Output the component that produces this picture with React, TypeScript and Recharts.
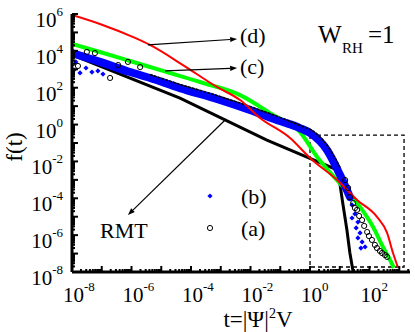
import React from 'react';
import { ComposedChart, Line, Scatter, XAxis, YAxis, ReferenceArea, ReferenceLine } from 'recharts';

const FONT = "'Liberation Serif', 'DejaVu Serif', serif";

// All values are log10(t), log10(f(t))
const RED_LT = [-8, -7.06, -5.88, -5.38, -4.27, -3.13, -2.35, -1.68, -0.67, 0.0, 0.91, 1.58, 2.25, 2.59, 2.79, 2.96];
const RED_LF = [5.95, 5.46, 4.70, 4.32, 3.23, 2.04, 1.33, 0.36, -0.73, -1.81, -3.01, -4.09, -5.01, -5.88, -6.97, -7.78];

const GREEN_LT = [-8, -7.06, -6.05, -4.94, -3.70, -2.35, -1.24, -0.34, 0.24, 1.11, 1.68, 2.12, 2.45, 2.69, 2.82];
const GREEN_LF = [4.37, 3.94, 3.45, 2.91, 2.31, 1.60, 0.52, -0.40, -1.76, -3.39, -4.47, -5.56, -6.64, -7.35, -7.78];

const RMT_LT = [-8, -4.37, -1.45, 0.91, 1.01, 1.11, 1.24, 1.34, 1.45];
const RMT_LF = [3.78, 1.44, -0.84, -2.46, -3.28, -4.36, -5.72, -6.97, -8.0];

// (b) dense band centre
const BLUE_BAND_LT = [-8, -7.06, -6.05, -5.38, -4.37, -3.13, -2.02, -1.01, -0.34, 0.0, 0.57, 1.01, 1.34];
const BLUE_BAND_LF = [3.88, 3.40, 2.85, 2.53, 1.98, 1.39, 0.79, 0.19, -0.19, -0.46, -1.38, -2.74, -3.93];
// (b) isolated points
const BLUE_PTS_LT = [-7.93, -7.73, -7.53, -7.33, -7.13, -7.87, -6.96, 1.41, 1.51, 1.41, 1.61, 1.55, 1.68, 1.61, 1.75, 1.85, 1.71];
const BLUE_PTS_LF = [2.96, 2.80, 3.07, 2.85, 2.91, 3.40, 2.74, -4.36, -4.85, -5.07, -5.29, -5.61, -5.88, -6.15, -6.37, -6.64, -6.70];

// (a) dense band (upper edge of the (b) band)
const CIRC_BAND_LT = [-5.38, -4.37, -3.13, -2.02, -1.01, -0.34, 0.17, 0.67, 1.01];
const CIRC_BAND_LF = [2.72, 2.18, 1.58, 0.98, 0.39, -0.05, -0.43, -1.35, -2.33];
// (a) isolated circles
const CIRC_PTS_LT = [-7.97, -7.80, -7.50, -7.23, -6.72, -6.45, -6.12, -5.71,
  1.18, 1.28, 1.34, 1.45, 1.51, 1.58, 1.65, 1.75, 1.82, 1.92, 1.98, 2.08, 2.18, 2.25, 2.35, 2.42, 2.52, 2.59];
const CIRC_PTS_LF = [3.34, 3.18, 3.94, 3.88, 2.53, 3.23, 3.40, 3.12,
  -3.01, -3.44, -3.93, -4.26, -4.53, -4.63, -4.96, -5.18, -5.50, -5.83, -6.05, -6.26, -6.53, -6.70, -6.86, -6.97, -7.08, -7.18];

const X_DOMAIN_LOG = [-8, 3.36];
const Y_DOMAIN_LOG = [-8, 6];
const X_DECADES = [-8, -7, -6, -5, -4, -3, -2, -1, 0, 1, 2, 3];
const X_LABELED = [-8, -6, -4, -2, 0, 2];
const Y_DECADES = [-8, -7, -6, -5, -4, -3, -2, -1, 0, 1, 2, 3, 4, 5, 6];
const Y_LABELED = [-8, -6, -4, -2, 0, 2, 4, 6];
const MINOR = [2, 3, 4, 5, 6, 7, 8, 9];

// dashed inset box (log10 units)
const BOX = { x1: 0, x2: 3.16, y1: -7.73, y2: -0.57 };
// annotation arrows [startT, startF, endT, endF] (log10 units)
const ARROW_D = [-5.45, 4.32, -2.45, 4.64];
const ARROW_C = [-4.87, 2.91, -2.45, 3.07];
const ARROW_RMT = [-2.82, 0.30, -6.12, -4.91];

const P = (v: number) => Math.pow(10, v);
const toPts = (lt: number[], lf: number[]) => lt.map((v, i) => ({ x: P(v), y: P(lf[i]) }));

const red = toPts(RED_LT, RED_LF);
const green = toPts(GREEN_LT, GREEN_LF);
const rmt = toPts(RMT_LT, RMT_LF);
const blueBand = toPts(BLUE_BAND_LT, BLUE_BAND_LF);
const bluePts = toPts(BLUE_PTS_LT, BLUE_PTS_LF);
const circBand = toPts(CIRC_BAND_LT, CIRC_BAND_LF);
const circPts = toPts(CIRC_PTS_LT, CIRC_PTS_LF);

const xDomain = [P(X_DOMAIN_LOG[0]), P(X_DOMAIN_LOG[1])];
const yDomain = [P(Y_DOMAIN_LOG[0]), P(Y_DOMAIN_LOG[1])];

const buildTicks = (decades: number[], lo: number, hi: number) =>
  decades
    .flatMap((d) => [P(d), ...MINOR.map((m) => m * P(d))])
    .filter((v) => v >= lo * 0.9999 && v <= hi * 1.0001);

const xTicks = buildTicks(X_DECADES, xDomain[0], xDomain[1]);
const yTicks = buildTicks(Y_DECADES, yDomain[0], yDomain[1]);

type Side = 'bottom' | 'top' | 'left' | 'right';

const textStyle = { fontFamily: FONT };

const makeTick = (side: Side, labeled: number[] | null) => (props: any) => {
  const { x, y, payload } = props;
  const lg = Math.log10(payload.value);
  const exp = Math.round(lg);
  const major = Math.abs(lg - exp) < 1e-6;
  const len = major ? 6 : 3;
  let x2 = x, y2 = y;
  if (side === 'bottom') y2 = y - len;
  if (side === 'top') y2 = y + len;
  if (side === 'left') x2 = x + len;
  if (side === 'right') x2 = x - len;
  const showLabel = major && labeled && labeled.includes(exp);
  return (
    <g>
      <line x1={x} y1={y} x2={x2} y2={y2} stroke="#000" strokeWidth={2} />
      {showLabel && side === 'bottom' && (
        <text x={x - 9} y={y + 30} fontSize={21} style={textStyle} fill="#000">
          10<tspan dy={-11} fontSize={13}>{exp}</tspan>
        </text>
      )}
      {showLabel && side === 'left' && (
        <text x={x - 9} y={y + 13} fontSize={21} style={textStyle} fill="#000" textAnchor="end">
          10<tspan dy={-11} fontSize={13}>{exp}</tspan>
        </text>
      )}
    </g>
  );
};

const Diamond = (props: any) => {
  const { cx, cy } = props;
  if (cx == null || cy == null) return <g />;
  const r = 2.6;
  return <polygon points={`${cx},${cy - r} ${cx + r},${cy} ${cx},${cy + r} ${cx - r},${cy}`} fill="#0000ff" />;
};

const Circle = (props: any) => {
  const { cx, cy } = props;
  if (cx == null || cy == null) return <g />;
  return <circle cx={cx} cy={cy} r={2.6} fill="none" stroke="#000" strokeWidth={1} />;
};

const ArrowShape = (props: any) => {
  const { x1, y1, x2, y2 } = props;
  if ([x1, y1, x2, y2].some((v) => v == null || Number.isNaN(v))) return <g />;
  const a = Math.atan2(y2 - y1, x2 - x1);
  const L = 7, W = 2.6;
  const bx = x2 - L * Math.cos(a), by = y2 - L * Math.sin(a);
  const px = -Math.sin(a) * W, py = Math.cos(a) * W;
  return (
    <g>
      <line x1={x1} y1={y1} x2={bx} y2={by} stroke="#000" strokeWidth={1.2} />
      <polygon points={`${x2},${y2} ${bx + px},${by + py} ${bx - px},${by - py}`} fill="#000" />
    </g>
  );
};

const seg = (a: number[]) => [
  { x: P(a[0]), y: P(a[1]) },
  { x: P(a[2]), y: P(a[3]) },
];

export default function App() {
  return (
    <div style={{ position: 'absolute', left: 0, top: 0, width: 415, height: 332, background: '#fff', fontFamily: FONT }}>
      <ComposedChart width={415} height={332} margin={{ top: 14, right: 5, bottom: 30, left: 22 }}>
        <XAxis
          xAxisId={0}
          dataKey="x"
          type="number"
          scale="log"
          domain={xDomain}
          allowDataOverflow
          ticks={xTicks}
          interval={0}
          tickSize={0}
          tickMargin={0}
          tickLine={false}
          axisLine={{ stroke: '#000', strokeWidth: 3 }}
          tick={makeTick('bottom', X_LABELED)}
          height={30}
        />
        <XAxis
          xAxisId="top"
          orientation="top"
          dataKey="x"
          type="number"
          scale="log"
          domain={xDomain}
          allowDataOverflow
          ticks={xTicks}
          interval={0}
          tickSize={0}
          tickMargin={0}
          tickLine={false}
          axisLine={{ stroke: '#000', strokeWidth: 3 }}
          tick={makeTick('top', null)}
          height={0}
        />
        <YAxis
          yAxisId={0}
          dataKey="y"
          type="number"
          scale="log"
          domain={yDomain}
          allowDataOverflow
          ticks={yTicks}
          interval={0}
          tickSize={0}
          tickMargin={0}
          tickLine={false}
          axisLine={{ stroke: '#000', strokeWidth: 3 }}
          tick={makeTick('left', Y_LABELED)}
          width={50}
        />
        <YAxis
          yAxisId="right"
          orientation="right"
          dataKey="y"
          type="number"
          scale="log"
          domain={yDomain}
          allowDataOverflow
          ticks={yTicks}
          interval={0}
          tickSize={0}
          tickMargin={0}
          tickLine={false}
          axisLine={{ stroke: '#000', strokeWidth: 3 }}
          tick={makeTick('right', null)}
          width={0}
        />
        <ReferenceArea
          x1={P(BOX.x1)}
          x2={P(BOX.x2)}
          y1={P(BOX.y1)}
          y2={P(BOX.y2)}
          fill="none"
          fillOpacity={0}
          stroke="#000"
          strokeWidth={1.3}
          strokeDasharray="4 3"
          ifOverflow="visible"
        />
        <Line data={rmt} dataKey="y" type="linear" stroke="#000" strokeWidth={3} dot={false} activeDot={false} isAnimationActive={false} />
        <Line data={green} dataKey="y" type="monotone" stroke="#00ff00" strokeWidth={4} dot={false} activeDot={false} isAnimationActive={false} />
        <Line data={blueBand} dataKey="y" type="monotone" stroke="#0000ff" strokeWidth={8} strokeLinecap="round" dot={false} activeDot={false} isAnimationActive={false} />
        <Line data={circBand} dataKey="y" type="monotone" stroke="#000" strokeWidth={1.6} strokeDasharray="3 1" dot={false} activeDot={false} isAnimationActive={false} />
        <Scatter data={bluePts} shape={Diamond} isAnimationActive={false} />
        <Scatter data={circPts} shape={Circle} isAnimationActive={false} />
        <Line data={red} dataKey="y" type="monotone" stroke="#ff0000" strokeWidth={2} dot={false} activeDot={false} isAnimationActive={false} />
        <ReferenceLine segment={seg(ARROW_D)} shape={ArrowShape} ifOverflow="visible" />
        <ReferenceLine segment={seg(ARROW_C)} shape={ArrowShape} ifOverflow="visible" />
        <ReferenceLine segment={seg(ARROW_RMT)} shape={ArrowShape} ifOverflow="visible" />
      </ComposedChart>
      <svg width={415} height={332} style={{ position: 'absolute', left: 0, top: 0, pointerEvents: 'none' }}>
        <g style={textStyle} fill="#000">
          <text x={240} y={43} fontSize={22}>(d)</text>
          <text x={240} y={74} fontSize={22}>(c)</text>
          <text x={241} y={204} fontSize={22}>(b)</text>
          <text x={241} y={236} fontSize={22}>(a)</text>
          <text x={100} y={238} fontSize={22}>RMT</text>
          <text x={318} y={43} fontSize={25}>W</text>
          <text x={342} y={53} fontSize={15}>RH</text>
          <text x={368} y={43} fontSize={25}>=1</text>
          <polygon points="210,193.4 212.6,196 210,198.6 207.4,196" fill="#0000ff" />
          <circle cx={210} cy={228} r={2.6} fill="none" stroke="#000" strokeWidth={1} />
          <text x={258} y={327} fontSize={23} textAnchor="middle">
            t=|Ψ|<tspan dy={-9} fontSize={14}>2</tspan><tspan dy={9}>V</tspan>
          </text>
          <text x={22} y={147} fontSize={23} textAnchor="middle" transform="rotate(-90 22 147)">f(t)</text>
        </g>
      </svg>
    </div>
  );
}
